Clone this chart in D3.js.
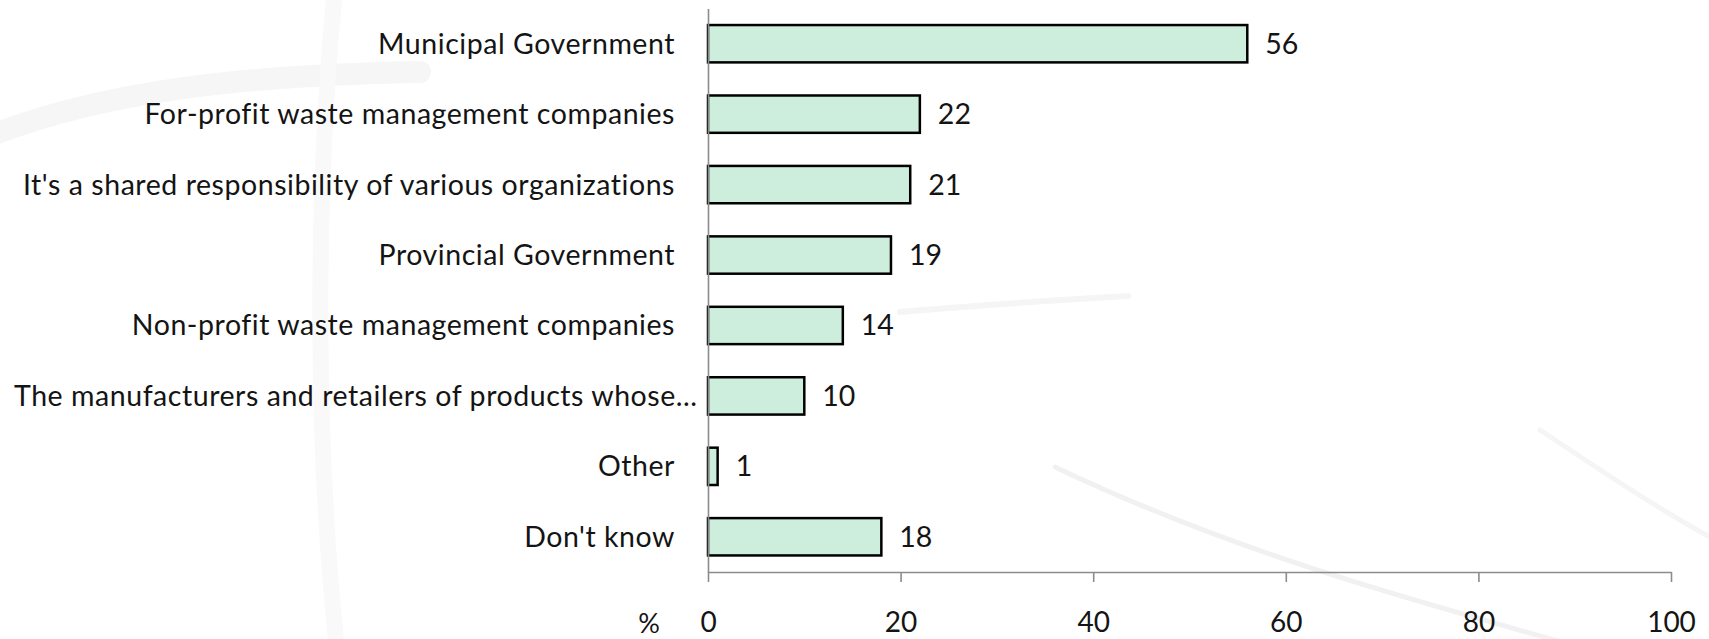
<!DOCTYPE html>
<html>
<head>
<meta charset="utf-8">
<script src="https://cdn.jsdelivr.net/npm/d3@7"></script>
<style>
  html, body { margin: 0; padding: 0; background: #ffffff; }
  svg { display: block; }
  text { font-family: Lato, "Open Sans", sans-serif; fill: #141414; }
</style>
</head>
<body>
<svg id="chart" width="1709" height="639"></svg>
<script>
const categories = [
  "Municipal Government",
  "For-profit waste management companies",
  "It's a shared responsibility of various organizations",
  "Provincial Government",
  "Non-profit waste management companies",
  "The manufacturers and retailers of products whose...",
  "Other",
  "Don't know"
];
const values = [56, 22, 21, 19, 14, 10, 1, 18];
const xTicks = [0, 20, 40, 60, 80, 100];
const xDomain = [0, 100];
const axisUnit = "%";

const W = 1709, H = 639;
const svg = d3.select("#chart");

// very faint watermark swooshes in the background
const bg = svg.append("g").attr("fill", "none").attr("stroke-linecap", "round");
bg.append("path")
  .attr("d", "M -20 140 C 100 90, 250 75, 420 72")
  .attr("stroke", "#f6f6f6").attr("stroke-width", 22);
bg.append("path")
  .attr("d", "M 335 -10 C 318 160, 312 420, 338 660")
  .attr("stroke", "#f9f9f9").attr("stroke-width", 16);
bg.append("path")
  .attr("d", "M 1055 467 C 1250 560, 1450 610, 1590 650")
  .attr("stroke", "#f1f1f1").attr("stroke-width", 5);
bg.append("path")
  .attr("d", "M 900 312 C 980 305, 1060 300, 1128 296")
  .attr("stroke", "#f5f5f5").attr("stroke-width", 6);
bg.append("path")
  .attr("d", "M 1540 430 C 1600 470, 1660 510, 1715 540")
  .attr("stroke", "#f5f5f5").attr("stroke-width", 5);

const x0 = 708, x1 = 1671;
const yTop = 8.5, yBot = 572;

const x = d3.scaleLinear().domain(xDomain).range([x0, x1]);
const y = d3.scaleBand().domain(categories).range([yTop, yBot])
  .paddingInner(0.47).paddingOuter(0.235);

// bars
svg.append("g").selectAll("rect")
  .data(categories)
  .join("rect")
  .attr("x", x(0))
  .attr("y", d => y(d))
  .attr("width", (d, i) => x(values[i]) - x(0))
  .attr("height", y.bandwidth())
  .attr("fill", "#cdeedd")
  .attr("stroke", "#000")
  .attr("stroke-width", 2.5);

// x axis
const xAxis = d3.axisBottom(x).tickValues(xTicks).tickSize(10).tickPadding(30).tickSizeOuter(0);
const gx = svg.append("g").attr("transform", `translate(0,${yBot})`).call(xAxis);
gx.select(".domain").attr("stroke", "#8c8c8c").attr("stroke-width", 1.6);
gx.selectAll(".tick line").attr("stroke", "#8c8c8c").attr("stroke-width", 1.6);
gx.selectAll(".tick text")
  .attr("font-family", "Lato, 'Open Sans', sans-serif")
  .attr("font-size", 28).attr("fill", "#141414");

// y axis line
const yAxis = d3.axisLeft(y).tickSize(0).tickFormat("");
const gy = svg.append("g").attr("transform", `translate(${x0},0)`).call(yAxis);
gy.select(".domain").attr("stroke", "#8c8c8c").attr("stroke-width", 1.6);

// category labels
const labelEnd = x0 - 33;
const leftMargin = 14;
svg.append("g").selectAll("text")
  .data(categories)
  .join("text")
  .attr("font-size", 28.5)
  .attr("letter-spacing", "0.55px")
  .attr("text-anchor", "end")
  .attr("y", d => y(d) + y.bandwidth() / 2 + 10)
  .text(d => d)
  .attr("x", function () {
    const w = this.getComputedTextLength();
    return Math.max(labelEnd, leftMargin + w);
  });

// value labels
svg.append("g").selectAll("text")
  .data(categories)
  .join("text")
  .attr("font-size", 28.5)
  .attr("x", (d, i) => x(values[i]) + 18)
  .attr("y", d => y(d) + y.bandwidth() / 2 + 10)
  .text((d, i) => values[i]);

// unit label
svg.append("text")
  .attr("font-size", 27)
  .attr("text-anchor", "middle")
  .attr("x", 649)
  .attr("y", 633)
  .text(axisUnit);
</script>
</body>
</html>
